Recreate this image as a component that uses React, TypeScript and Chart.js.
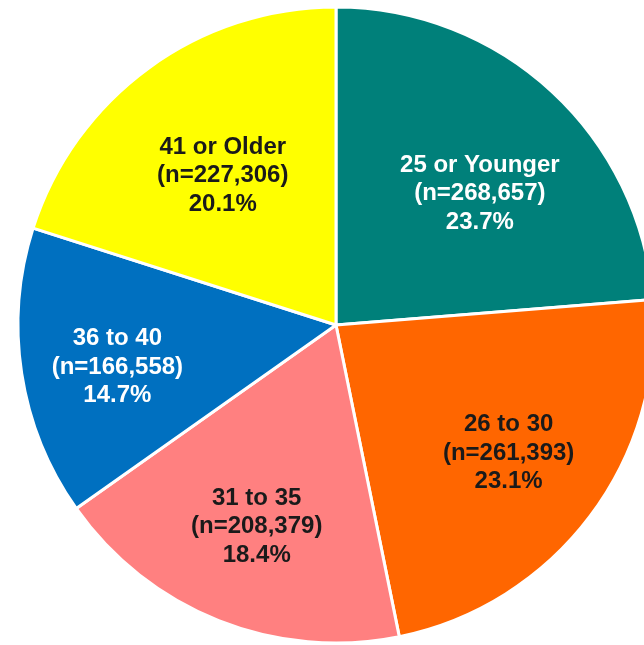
import React, { useEffect, useRef } from "react";
import { Chart, registerables } from "chart.js";

Chart.register(...registerables);

const categories = ["25 or Younger", "26 to 30", "31 to 35", "36 to 40", "41 or Older"];
const counts = [268657, 261393, 208379, 166558, 227306];
const percentLabels = ["23.7%", "23.1%", "18.4%", "14.7%", "20.1%"];
const countLabels = ["(n=268,657)", "(n=261,393)", "(n=208,379)", "(n=166,558)", "(n=227,306)"];
const sliceColors = ["#00807A", "#FF6600", "#FF8080", "#0070C0", "#FFFF00"];
const labelColors = ["#ffffff", "#1a1a1a", "#1a1a1a", "#ffffff", "#1a1a1a"];
const labelRadiusFraction = [0.613, 0.676, 0.682, 0.7, 0.59];
const labelAngleShiftDeg = [4.85, -0.4, -0.2, -2.1, -1.0];

const labelPlugin = {
  id: "sliceLabels",
  afterDatasetsDraw(chart: any) {
    const ctx = chart.ctx;
    const meta = chart.getDatasetMeta(0);
    ctx.save();
    ctx.font = "bold 24px 'Liberation Sans', Arial, sans-serif";
    ctx.textAlign = "center";
    ctx.textBaseline = "middle";
    meta.data.forEach((arc: any, i: number) => {
      const p = arc.getProps(["x", "y", "startAngle", "endAngle", "outerRadius"], true);
      const mid = (p.startAngle + p.endAngle) / 2 + (labelAngleShiftDeg[i] * Math.PI) / 180;
      const r = p.outerRadius * labelRadiusFraction[i];
      const cx = p.x + Math.cos(mid) * r;
      const cy = p.y + Math.sin(mid) * r;
      const lines = [categories[i], countLabels[i], percentLabels[i]];
      const lh = 28.5;
      ctx.fillStyle = labelColors[i];
      lines.forEach((t, k) => {
        ctx.fillText(t, cx, cy + (k - 1) * lh);
      });
    });
    ctx.restore();
  },
};

export default function App() {
  const ref = useRef<HTMLCanvasElement | null>(null);
  useEffect(() => {
    if (!ref.current) return;
    const chart = new Chart(ref.current, {
      type: "pie",
      data: {
        labels: categories,
        datasets: [
          {
            data: counts,
            backgroundColor: sliceColors,
            borderColor: "#ffffff",
            borderWidth: 3,
            radius: 318,
          } as any,
        ],
      },
      options: {
        responsive: false,
        animation: false,
        layout: { padding: 0 },
        plugins: {
          legend: { display: false },
          tooltip: { enabled: false },
        },
      },
      plugins: [labelPlugin],
    });
    return () => chart.destroy();
  }, []);
  return (
    <div
      style={{
        position: "absolute",
        left: 0,
        top: 0,
        width: 644,
        height: 645,
        overflow: "hidden",
        background: "#ffffff",
      }}
    >
      <canvas ref={ref} width={672} height={650} style={{ width: 672, height: 650, display: "block" }} />
    </div>
  );
}
